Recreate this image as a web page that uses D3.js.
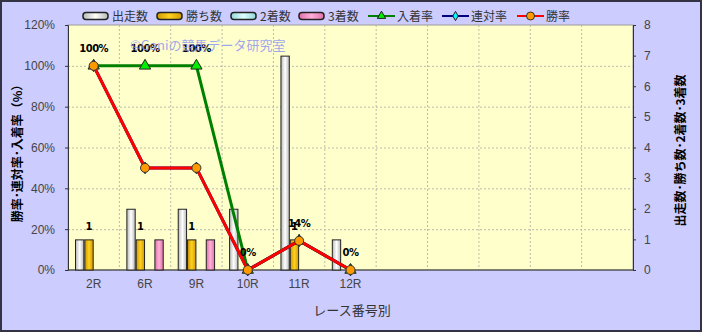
<!DOCTYPE html>
<html lang="ja">
<head>
<meta charset="UTF-8">
<title>レース番号別</title>
<script src="https://cdn.jsdelivr.net/npm/d3@7"></script>
<style>
  html, body { margin: 0; padding: 0; background: #fff; }
  svg { display: block; font-family: "Noto Sans CJK JP", "DejaVu Sans", sans-serif; }
</style>
</head>
<body>
<div id="chart"></div>
<script>
// categories (11 slots, last 5 blank)
var races = ["2R", "6R", "9R", "10R", "11R", "12R", "", "", "", "", ""];
// counts (right axis)
var starts = [1, 2, 2, 2, 7, 1];
var wins = [1, 1, 1, 0, 1, 0];
var seconds = [0, 0, 0, 0, 0, 0];
var thirds = [0, 1, 1, 0, 0, 0];
// rates (left axis, %)
var placeRate = [100, 100, 100, 0, 14.3, 0];
var rentaiRate = [100, 50, 50, 0, 14.3, 0];
var winRate = [100, 50, 50, 0, 14.3, 0];
var placeLabels = ["100%", "100%", "100%", "0%", "14%", "0%"];
var rateTicks = [0, 20, 40, 60, 80, 100, 120];
var countTicks = [0, 1, 2, 3, 4, 5, 6, 7, 8];

var width = 703, height = 333;
var plot = { left: 68, right: 633, top: 25, bottom: 270 };

var svg = d3.select('#chart').append('svg')
    .attr('width', width).attr('height', height);

var defs = svg.append('defs');
function grad(id, edge, mid) {
    var g = defs.append('linearGradient').attr('id', id)
        .attr('x1', '0%').attr('x2', '100%').attr('y1', '0%').attr('y2', '0%');
    g.append('stop').attr('offset', '0%').attr('stop-color', edge);
    g.append('stop').attr('offset', '50%').attr('stop-color', mid);
    g.append('stop').attr('offset', '100%').attr('stop-color', edge);
}
grad('gWhite', '#b8b8b8', '#ffffff');
grad('gGold', '#d09a00', '#ffd020');
grad('gCyan', '#90d8d8', '#e0ffff');
grad('gPink', '#e070a8', '#ffb0d8');

// background
svg.append('rect').attr('x', 1).attr('y', 1).attr('width', width - 3).attr('height', height - 3)
    .attr('fill', '#ccccff').attr('stroke', '#333344').attr('stroke-width', 2);

svg.append('rect')
    .attr('x', plot.left).attr('y', plot.top)
    .attr('width', plot.right - plot.left).attr('height', plot.bottom - plot.top)
    .attr('fill', '#ffffcc').attr('stroke', '#999').attr('stroke-width', 1);

var x = d3.scaleBand().domain(d3.range(races.length)).range([plot.left, plot.right]);
var yRate = d3.scaleLinear().domain([0, 120]).range([plot.bottom, plot.top]);
var yCount = d3.scaleLinear().domain([0, 8]).range([plot.bottom, plot.top]);

var seriesKeys = ["starts", "wins", "seconds", "thirds"];
var xInner = d3.scaleBand().domain(seriesKeys).range([7, x.bandwidth() - 7]);

// grid
svg.append('g').selectAll('line.v')
    .data(d3.range(1, races.length))
    .enter().append('line')
    .attr('x1', function(d){ return x(d); }).attr('x2', function(d){ return x(d); })
    .attr('y1', plot.top).attr('y2', plot.bottom)
    .attr('stroke', '#bbbbaa').attr('stroke-dasharray', '2,2').attr('stroke-width', 1);
svg.append('g').selectAll('line.h')
    .data(rateTicks.slice(1, -1))
    .enter().append('line')
    .attr('x1', plot.left).attr('x2', plot.right)
    .attr('y1', function(d){ return yRate(d) + 0.5; }).attr('y2', function(d){ return yRate(d) + 0.5; })
    .attr('stroke', '#bbbbaa').attr('stroke-dasharray', '2,2').attr('stroke-width', 1);

// axes
var leftAxis = svg.append('g')
    .attr('transform', 'translate(' + plot.left + ',0)')
    .call(d3.axisLeft(yRate).tickValues(rateTicks).tickFormat(function(d){ return d + '%'; })
        .tickSize(3).tickPadding(10));
var rightAxis = svg.append('g')
    .attr('transform', 'translate(' + plot.right + ',0)')
    .call(d3.axisRight(yCount).tickValues(countTicks).tickSize(3).tickPadding(8));
var bottomAxis = svg.append('g')
    .attr('transform', 'translate(0,' + plot.bottom + ')')
    .call(d3.axisBottom(x).tickFormat(function(d){ return races[d]; }).tickSize(0).tickPadding(9));
[leftAxis, rightAxis, bottomAxis].forEach(function(a){
    a.select('.domain').attr('stroke', '#333');
    a.selectAll('.tick line').attr('stroke', '#333');
    a.selectAll('text').attr('fill', '#444').style('font-size', '12px')
        .style('font-family', '"Liberation Sans", Arial, sans-serif');
});
bottomAxis.select('.domain').remove();
svg.append('line').attr('x1', plot.left).attr('x2', plot.right)
    .attr('y1', plot.bottom).attr('y2', plot.bottom).attr('stroke', '#333');

// bars
var barData = [];
var fills = { starts: 'url(#gWhite)', wins: 'url(#gGold)', seconds: 'url(#gCyan)', thirds: 'url(#gPink)' };
var vals = { starts: starts, wins: wins, seconds: seconds, thirds: thirds };
starts.forEach(function(s, i){
    seriesKeys.forEach(function(k){
        if (vals[k][i] > 0) barData.push({ i: i, key: k, v: vals[k][i] });
    });
});
svg.append('g').selectAll('rect')
    .data(barData)
    .enter().append('rect')
    .attr('x', function(d){ return x(d.i) + xInner(d.key) + 0.5; })
    .attr('y', function(d){ return yCount(d.v) + 0.5; })
    .attr('width', xInner.bandwidth() - 1)
    .attr('height', function(d){ return yCount(0) - yCount(d.v) - 0.5; })
    .attr('fill', function(d){ return fills[d.key]; })
    .attr('stroke', '#222').attr('stroke-width', 1);

// win count labels
svg.append('g').selectAll('text')
    .data(wins.map(function(v, i){ return { i: i, v: v }; }).filter(function(d){ return d.v > 0; }))
    .enter().append('text')
    .attr('x', function(d){ return x(d.i) + xInner('wins') + xInner.bandwidth() / 2; })
    .attr('y', function(d){ return yCount(d.v) - 9; })
    .attr('text-anchor', 'middle')
    .style('font-size', '10px').style('font-weight', 'bold')
    .style('font-family', '"DejaVu Sans", sans-serif')
    .text(function(d){ return d.v; });

// lines
function cx(i){ return x(i) + x.bandwidth() / 2; }
function drawLine(data, color) {
    var line = d3.line().x(function(d, i){ return cx(i); }).y(function(d){ return yRate(d); });
    svg.append('path').datum(data).attr('d', line)
        .attr('fill', 'none').attr('stroke', color).attr('stroke-width', 3);
}
drawLine(placeRate, '#008000');
svg.append('g').selectAll('path')
    .data(placeRate).enter().append('path')
    .attr('transform', function(d, i){ return 'translate(' + cx(i) + ',' + yRate(d) + ')'; })
    .attr('d', d3.symbol().type(d3.symbolTriangle).size(55))
    .attr('fill', '#00ee00').attr('stroke', '#222').attr('stroke-width', 1);

drawLine(rentaiRate, '#000080');
svg.append('g').selectAll('path')
    .data(rentaiRate).enter().append('path')
    .attr('transform', function(d, i){ return 'translate(' + cx(i) + ',' + yRate(d) + ')'; })
    .attr('d', d3.symbol().type(d3.symbolDiamond).size(40))
    .attr('fill', '#00ffff').attr('stroke', '#222');

drawLine(winRate, '#ff0000');
svg.append('g').selectAll('circle')
    .data(winRate).enter().append('circle')
    .attr('cx', function(d, i){ return cx(i); })
    .attr('cy', function(d){ return yRate(d); })
    .attr('r', 4.5)
    .attr('fill', '#ff9900').attr('stroke', '#333').attr('stroke-width', 1);

// rate labels
svg.append('g').selectAll('text')
    .data(placeRate).enter().append('text')
    .attr('x', function(d, i){ return cx(i); })
    .attr('y', function(d){ return yRate(d) - 14; })
    .attr('text-anchor', 'middle')
    .style('font-size', '10px').style('font-weight', 'bold')
    .style('font-family', '"DejaVu Sans", sans-serif').style('letter-spacing', '-0.5px')
    .text(function(d, i){ return placeLabels[i]; });

// watermark
svg.append('text').attr('x', 130).attr('y', 50)
    .style('font-size', '13px').attr('fill', '#8f96f0').attr('fill-opacity', 0.85)
    .text('©Ganiの競馬データ研究室');

// legend
var legendItems = [
    { type: 'bar', fill: 'url(#gWhite)', label: '出走数', x: 83 },
    { type: 'bar', fill: 'url(#gGold)', label: '勝ち数', x: 157 },
    { type: 'bar', fill: 'url(#gCyan)', label: '2着数', x: 231 },
    { type: 'bar', fill: 'url(#gPink)', label: '3着数', x: 299 },
    { type: 'tri', color: '#008000', fill: '#00ee00', label: '入着率', x: 368 },
    { type: 'dia', color: '#000080', fill: '#00ffff', label: '連対率', x: 442 },
    { type: 'cir', color: '#ff0000', fill: '#ff9900', label: '勝率', x: 517 }
];
var lg = svg.append('g').attr('transform', 'translate(0,16)');
legendItems.forEach(function(it){
    var g = lg.append('g').attr('transform', 'translate(' + it.x + ',0)');
    if (it.type === 'bar') {
        g.append('rect').attr('x', 0).attr('y', -3.5).attr('width', 25).attr('height', 7)
            .attr('rx', 3).attr('fill', it.fill).attr('stroke', '#222').attr('stroke-width', 1.5);
    } else {
        g.append('line').attr('x1', 0).attr('x2', 27).attr('y1', 0).attr('y2', 0)
            .attr('stroke', it.color).attr('stroke-width', 2);
        if (it.type === 'cir') {
            g.append('circle').attr('cx', 13.5).attr('cy', 0).attr('r', 4)
                .attr('fill', it.fill).attr('stroke', '#333');
        } else {
            g.append('path').attr('transform', 'translate(13.5,0)')
                .attr('d', d3.symbol().type(it.type === 'tri' ? d3.symbolTriangle : d3.symbolDiamond).size(it.type === 'tri' ? 30 : 25))
                .attr('fill', it.fill).attr('stroke', '#222');
        }
    }
    g.append('text').attr('x', 29).attr('y', 5)
        .style('font-size', '12px').attr('fill', '#333').text(it.label);
});

// axis titles
svg.append('text')
    .attr('transform', 'translate(22,' + ((plot.top + plot.bottom) / 2 + 3) + ') rotate(-90)')
    .attr('text-anchor', 'middle')
    .style('font-size', '12px').style('font-weight', 'bold')
    .text('勝率･連対率･入着率（%）');
svg.append('text')
    .attr('transform', 'translate(685,' + ((plot.top + plot.bottom) / 2 + 3) + ') rotate(-90)')
    .attr('text-anchor', 'middle')
    .style('font-size', '12px').style('font-weight', 'bold')
    .text('出走数･勝ち数･2着数･3着数');
svg.append('text')
    .attr('x', 352).attr('y', 315)
    .attr('text-anchor', 'middle')
    .style('font-size', '13px').attr('fill', '#333')
    .text('レース番号別');
</script>
</body>
</html>
